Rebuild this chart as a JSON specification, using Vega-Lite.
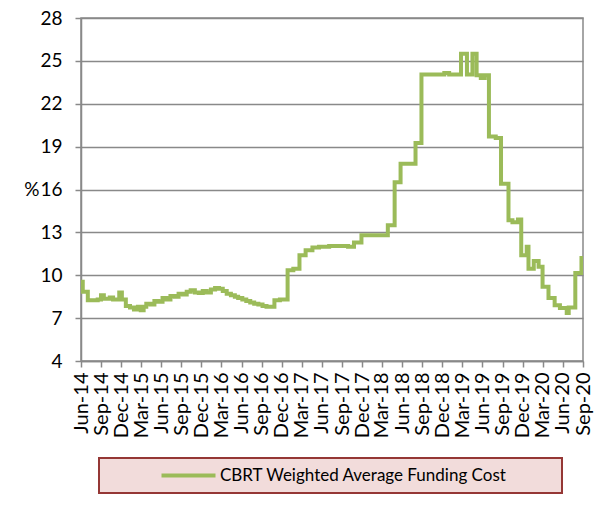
{
  "$schema": "https://vega.github.io/schema/vega-lite/v6.json",
  "autosize": "none",
  "width": 502,
  "height": 343,
  "padding": {"left": 81, "top": 18, "right": 23, "bottom": 149},
  "background": "white",
  "config": {
    "view": {"stroke": "#898989", "strokeWidth": 1.5},
    "legend": {"strokeWidth": 2},
    "axis": {
      "domainColor": "#898989", "domainWidth": 1.5,
      "tickColor": "#898989", "tickWidth": 1.5,
      "gridColor": "#898989", "gridWidth": 1.5, "gridOpacity": 1,
      "labelFont": "Lato", "labelFontSize": 19, "labelColor": "#000000",
      "titleFont": "Lato", "titleFontSize": 19, "titleColor": "#000000", "titleFontWeight": "normal"
    }
  },
  "data": {
    "values": [
      {"date": "2014-06-01", "v": 9.55},
      {"date": "2014-06-09", "v": 8.85},
      {"date": "2014-07-02", "v": 8.25},
      {"date": "2014-08-16", "v": 8.3},
      {"date": "2014-08-31", "v": 8.6},
      {"date": "2014-09-13", "v": 8.35},
      {"date": "2014-10-10", "v": 8.45},
      {"date": "2014-10-25", "v": 8.3},
      {"date": "2014-11-22", "v": 8.8},
      {"date": "2014-12-04", "v": 8.3},
      {"date": "2014-12-22", "v": 7.85},
      {"date": "2015-01-10", "v": 7.75},
      {"date": "2015-01-28", "v": 7.6},
      {"date": "2015-02-15", "v": 7.8},
      {"date": "2015-02-28", "v": 7.55},
      {"date": "2015-03-13", "v": 7.8},
      {"date": "2015-03-25", "v": 8.0},
      {"date": "2015-04-13", "v": 7.95},
      {"date": "2015-05-01", "v": 8.2},
      {"date": "2015-05-19", "v": 8.15},
      {"date": "2015-06-07", "v": 8.4},
      {"date": "2015-06-25", "v": 8.3},
      {"date": "2015-07-13", "v": 8.55},
      {"date": "2015-08-01", "v": 8.5},
      {"date": "2015-08-19", "v": 8.7},
      {"date": "2015-09-07", "v": 8.65},
      {"date": "2015-09-25", "v": 8.85},
      {"date": "2015-10-13", "v": 8.95},
      {"date": "2015-11-01", "v": 8.8},
      {"date": "2015-11-19", "v": 8.75},
      {"date": "2015-12-07", "v": 8.9},
      {"date": "2015-12-25", "v": 8.8},
      {"date": "2016-01-13", "v": 9.0},
      {"date": "2016-02-01", "v": 9.1},
      {"date": "2016-02-19", "v": 9.05},
      {"date": "2016-03-07", "v": 8.9},
      {"date": "2016-03-25", "v": 8.7},
      {"date": "2016-04-13", "v": 8.6},
      {"date": "2016-05-01", "v": 8.5},
      {"date": "2016-05-16", "v": 8.4},
      {"date": "2016-06-04", "v": 8.3},
      {"date": "2016-06-22", "v": 8.2},
      {"date": "2016-07-10", "v": 8.1},
      {"date": "2016-07-28", "v": 8.0},
      {"date": "2016-08-16", "v": 7.95},
      {"date": "2016-09-04", "v": 7.85},
      {"date": "2016-09-22", "v": 7.8},
      {"date": "2016-10-10", "v": 7.8},
      {"date": "2016-10-28", "v": 8.25},
      {"date": "2016-11-22", "v": 8.3},
      {"date": "2016-12-27", "v": 10.35},
      {"date": "2017-01-22", "v": 10.45},
      {"date": "2017-02-19", "v": 11.4},
      {"date": "2017-03-19", "v": 11.75},
      {"date": "2017-04-19", "v": 11.95},
      {"date": "2017-05-19", "v": 12.0},
      {"date": "2017-07-04", "v": 12.05},
      {"date": "2017-08-19", "v": 12.05},
      {"date": "2017-09-28", "v": 12.0},
      {"date": "2017-10-25", "v": 12.3},
      {"date": "2017-11-28", "v": 12.8},
      {"date": "2018-03-28", "v": 13.5},
      {"date": "2018-04-28", "v": 16.5},
      {"date": "2018-05-25", "v": 17.8},
      {"date": "2018-08-01", "v": 19.25},
      {"date": "2018-08-28", "v": 24.05},
      {"date": "2018-12-10", "v": 24.15},
      {"date": "2019-01-01", "v": 24.05},
      {"date": "2019-02-24", "v": 25.5},
      {"date": "2019-03-23", "v": 24.05},
      {"date": "2019-04-17", "v": 25.5},
      {"date": "2019-05-06", "v": 24.0},
      {"date": "2019-05-25", "v": 23.8},
      {"date": "2019-06-12", "v": 24.0},
      {"date": "2019-07-01", "v": 19.7},
      {"date": "2019-08-01", "v": 19.6},
      {"date": "2019-08-25", "v": 16.4},
      {"date": "2019-09-28", "v": 13.85},
      {"date": "2019-10-16", "v": 13.7},
      {"date": "2019-11-10", "v": 13.9},
      {"date": "2019-11-25", "v": 11.4},
      {"date": "2019-12-20", "v": 12.0},
      {"date": "2019-12-28", "v": 10.45},
      {"date": "2020-01-21", "v": 11.0},
      {"date": "2020-02-12", "v": 10.6},
      {"date": "2020-03-01", "v": 9.2},
      {"date": "2020-03-28", "v": 8.4},
      {"date": "2020-04-25", "v": 7.9},
      {"date": "2020-05-19", "v": 7.7},
      {"date": "2020-06-19", "v": 7.35},
      {"date": "2020-06-28", "v": 7.75},
      {"date": "2020-07-28", "v": 10.15},
      {"date": "2020-08-25", "v": 11.2},
      {"date": "2020-09-01", "v": 11.2}
    ]
  },
  "mark": {"type": "line", "interpolate": "step-after", "strokeWidth": 4, "clip": true},
  "encoding": {
    "x": {
      "field": "date", "type": "temporal",
      "scale": {"type": "utc", "domain": [{"year": 2014, "month": 6, "date": 1, "utc": true}, {"year": 2020, "month": 9, "date": 1, "utc": true}]},
      "axis": {
        "title": null, "grid": false, "format": "%b-%y", "labelAngle": 270, "labelFontSize": 20,
        "tickSize": 6, "labelPadding": 5, "labelOverlap": false, "labelFlush": false,
        "values": [
          {"year": 2014, "month": 6, "date": 1, "utc": true},
          {"year": 2014, "month": 9, "date": 1, "utc": true},
          {"year": 2014, "month": 12, "date": 1, "utc": true},
          {"year": 2015, "month": 3, "date": 1, "utc": true},
          {"year": 2015, "month": 6, "date": 1, "utc": true},
          {"year": 2015, "month": 9, "date": 1, "utc": true},
          {"year": 2015, "month": 12, "date": 1, "utc": true},
          {"year": 2016, "month": 3, "date": 1, "utc": true},
          {"year": 2016, "month": 6, "date": 1, "utc": true},
          {"year": 2016, "month": 9, "date": 1, "utc": true},
          {"year": 2016, "month": 12, "date": 1, "utc": true},
          {"year": 2017, "month": 3, "date": 1, "utc": true},
          {"year": 2017, "month": 6, "date": 1, "utc": true},
          {"year": 2017, "month": 9, "date": 1, "utc": true},
          {"year": 2017, "month": 12, "date": 1, "utc": true},
          {"year": 2018, "month": 3, "date": 1, "utc": true},
          {"year": 2018, "month": 6, "date": 1, "utc": true},
          {"year": 2018, "month": 9, "date": 1, "utc": true},
          {"year": 2018, "month": 12, "date": 1, "utc": true},
          {"year": 2019, "month": 3, "date": 1, "utc": true},
          {"year": 2019, "month": 6, "date": 1, "utc": true},
          {"year": 2019, "month": 9, "date": 1, "utc": true},
          {"year": 2019, "month": 12, "date": 1, "utc": true},
          {"year": 2020, "month": 3, "date": 1, "utc": true},
          {"year": 2020, "month": 6, "date": 1, "utc": true},
          {"year": 2020, "month": 9, "date": 1, "utc": true}
        ]
      }
    },
    "y": {
      "field": "v", "type": "quantitative",
      "scale": {"domain": [4, 28], "nice": false, "zero": false},
      "axis": {
        "title": "%", "titleAngle": 0, "titleAlign": "right", "titleBaseline": "middle",
        "titleX": -42, "titleY": 171.5,
        "values": [4, 7, 10, 13, 16, 19, 22, 25, 28],
        "tickSize": 6, "labelPadding": 13, "grid": true
      }
    },
    "color": {
      "datum": "CBRT Weighted Average Funding Cost",
      "scale": {"range": ["#9BBB59"]},
      "legend": {
        "title": ".", "titleOrient": "right", "titlePadding": 44, "titleColor": "#F2DCDB",
        "titleFontSize": 6, "titleAngle": 0,
        "orient": "none", "legendX": 18, "legendY": 440,
        "fillColor": "#F2DCDB", "strokeColor": "#953735", "padding": 9,
        "symbolType": "M-4.5,0H4.5", "symbolSize": 144, "symbolStrokeWidth": 4, "symbolOffset": 72,
        "labelFont": "Lato", "labelFontSize": 17, "labelColor": "#000000", "labelLimit": 0, "labelOffset": 23
      }
    }
  }
}
